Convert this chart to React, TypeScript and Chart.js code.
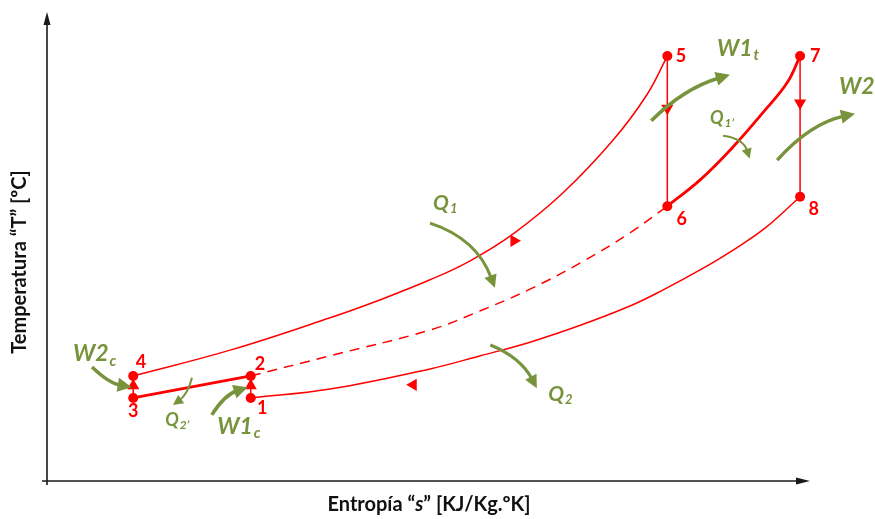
import React, { useEffect, useRef } from "react";
import { Chart, registerables } from "chart.js";

Chart.register(...registerables);

const RED = "#FF0000";
const GREEN = "#77933C";
const AXIS = "#1a1a1a";

// State points of the cycle (entropy s, temperature T) in arbitrary units 0..100
const stateNames = ["1", "2", "3", "4", "5", "6", "7", "8"];
const stateS = [26.7, 26.7, 11.3, 11.3, 81.3, 81.3, 98.7, 98.7];
const stateT = [17.7, 22.4, 17.7, 22.4, 90.6, 58.6, 90.6, 60.6];
const stateLabelS = [28.2, 27.9, 11.3, 12.3, 83.1, 83.2, 100.7, 100.5];
const stateLabelT = [15.6, 24.9, 14.9, 25.4, 90.6, 55.9, 90.6, 58.0];

// Constant pressure line 4 -> 5 (high pressure)
const upperS = [11.3, 24.0, 37.1, 43.6, 50.2, 55.4, 61.1, 67.6, 74.2, 78.6, 81.3];
const upperT = [22.4, 27.9, 34.8, 38.6, 42.9, 46.9, 52.7, 61.4, 72.7, 82.3, 90.6];

// Intermediate pressure line 2 -> 6 (dashed)
const middleS = [26.7, 37.1, 50.2, 56.8, 63.3, 69.9, 76.4, 81.3];
const middleT = [22.4, 26.7, 32.2, 36.3, 40.9, 46.5, 52.9, 58.6];

// Reheat 6 -> 7
const reheatS = [81.3, 85.6, 89.9, 93.8, 97.0, 98.7];
const reheatT = [58.6, 64.2, 71.2, 78.5, 84.9, 90.6];

// Low pressure line 1 -> 8
const lowerS = [26.7, 37.1, 50.2, 56.8, 63.3, 69.9, 76.4, 80.7, 85.6, 89.5, 94.1, 98.7];
const lowerT = [17.7, 19.6, 23.9, 26.7, 29.6, 33.2, 37.3, 40.7, 45.0, 48.8, 53.9, 60.6];

// Intercooling 3 -> 2
const coolS = [11.3, 26.7];
const coolT = [17.7, 22.4];

// Direction markers on the cycle
const dirS = [81.3, 98.7, 11.3, 26.7, 61.2, 48.0];
const dirT = [79.5, 80.6, 20.3, 20.3, 51.2, 20.5];
const dirAngle = [180, 180, 0, 0, 210, 270];

// Heat / work arrows: start, middle, end (s, T)
const flowNames = ["W2c", "Q2'", "W1c", "Q1", "Q2", "W1t", "Q1'", "W2"];
const flowArrows = [
  [5.9, 24.3, 8.3, 21.5, 11.1, 20.0],
  [19.0, 22.0, 18.1, 18.8, 16.5, 16.2],
  [21.6, 14.1, 23.6, 17.7, 26.3, 20.0],
  [50.2, 55.0, 55.4, 49.9, 58.7, 41.2],
  [58.1, 29.0, 61.6, 25.4, 64.2, 19.8],
  [79.2, 76.8, 83.9, 82.7, 89.5, 86.6],
  [88.6, 73.6, 90.8, 72.1, 92.1, 68.7],
  [95.7, 68.4, 100.4, 74.8, 105.9, 78.3],
];
const flowWidth = [3.5, 2, 3.5, 3, 3, 3.5, 2, 3.5];

// Labels of the heat / work arrows
const flowMain = ["W2", "Q", "W1", "Q", "Q", "W1", "Q", "W2"];
const flowSub = ["c", "2\u2019", "c", "1", "2", "t", "1\u2019", ""];
const flowLabelS = [3.4, 15.5, 22.3, 50.6, 65.7, 87.8, 86.9, 103.8];
const flowLabelT = [27.1, 13.0, 11.7, 59.3, 18.6, 92.3, 77.4, 84.2];
const flowFont = [23, 18, 23, 21, 21, 23, 18, 23];

const yTitle = "Temperatura \u201CT\u201D [\u00BAC]";
const xTitleParts = ["Entrop\u00EDa \u201C", "s", "\u201D [KJ/Kg.\u00BAK]"];

function line(s: number[], t: number[], width: number, dash?: number[]) {
  return {
    data: s.map((v, i) => ({ x: v, y: t[i] })),
    showLine: true,
    borderColor: RED,
    backgroundColor: RED,
    borderWidth: width,
    borderDash: dash || [],
    pointRadius: 0,
    tension: 0.4,
  };
}

const decor = {
  id: "decor",
  beforeDatasetsDraw(chart: any) {
    const { ctx, chartArea } = chart;
    const { left, right, top, bottom } = chartArea;
    ctx.save();
    ctx.strokeStyle = AXIS;
    ctx.fillStyle = AXIS;
    ctx.lineWidth = 1.6;
    ctx.beginPath();
    ctx.moveTo(left, bottom + 4);
    ctx.lineTo(left, top + 8);
    ctx.stroke();
    ctx.beginPath();
    ctx.moveTo(left, top);
    ctx.lineTo(left - 3.5, top + 13);
    ctx.lineTo(left + 3.5, top + 13);
    ctx.closePath();
    ctx.fill();
    ctx.beginPath();
    ctx.moveTo(left - 5, bottom);
    ctx.lineTo(right - 8, bottom);
    ctx.stroke();
    ctx.beginPath();
    ctx.moveTo(right, bottom);
    ctx.lineTo(right - 14, bottom - 3.5);
    ctx.lineTo(right - 14, bottom + 3.5);
    ctx.closePath();
    ctx.fill();
    ctx.restore();
  },
  afterDraw(chart: any) {
    const { ctx, chartArea } = chart;
    const xs = chart.scales.x;
    const ys = chart.scales.y;
    const px = (v: number) => xs.getPixelForValue(v);
    const py = (v: number) => ys.getPixelForValue(v);
    ctx.save();

    flowArrows.forEach((a, i) => {
      const w = flowWidth[i];
      const x0 = px(a[0]), y0 = py(a[1]);
      const xm = px(a[2]), ym = py(a[3]);
      const x2 = px(a[4]), y2 = py(a[5]);
      const cx = 2 * xm - (x0 + x2) / 2;
      const cy = 2 * ym - (y0 + y2) / 2;
      let dx = x2 - cx, dy = y2 - cy;
      const len = Math.hypot(dx, dy) || 1;
      dx /= len; dy /= len;
      const hl = 5 + w * 2.6;
      const hw = 2.5 + w * 1.3;
      const bx = x2 - dx * hl * 0.8, by = y2 - dy * hl * 0.8;
      ctx.strokeStyle = GREEN;
      ctx.fillStyle = GREEN;
      ctx.lineWidth = w;
      ctx.lineCap = "butt";
      ctx.beginPath();
      ctx.moveTo(x0, y0);
      ctx.quadraticCurveTo(cx, cy, bx, by);
      ctx.stroke();
      const hx = x2 - dx * hl, hy = y2 - dy * hl;
      ctx.beginPath();
      ctx.moveTo(x2, y2);
      ctx.lineTo(hx - dy * hw, hy + dx * hw);
      ctx.lineTo(hx + dy * hw, hy - dx * hw);
      ctx.closePath();
      ctx.fill();
    });

    ctx.fillStyle = GREEN;
    ctx.textBaseline = "middle";
    ctx.textAlign = "left";
    flowMain.forEach((m, i) => {
      const size = flowFont[i];
      const x = px(flowLabelS[i]);
      const y = py(flowLabelT[i]);
      ctx.font = `italic bold ${size}px Lato`;
      ctx.fillText(m, x, y);
      const wMain = ctx.measureText(m).width;
      if (flowSub[i]) {
        ctx.font = `italic bold ${Math.round(size * 0.64)}px Lato`;
        ctx.fillText(flowSub[i], x + wMain + 1, y + size * 0.3);
      }
    });

    ctx.fillStyle = RED;
    ctx.textAlign = "center";
    ctx.font = "bold 18px Lato";
    stateNames.forEach((n, i) => {
      ctx.fillText(n, px(stateLabelS[i]), py(stateLabelT[i]));
    });

    ctx.fillStyle = "#111";
    ctx.font = "bold 20px Lato";
    ctx.save();
    ctx.translate(20, 262);
    ctx.rotate(-Math.PI / 2);
    ctx.textAlign = "center";
    ctx.fillText(yTitle, 0, 0);
    ctx.restore();

    const fonts = ["bold 20px Lato", "italic bold 20px Lato", "bold 20px Lato"];
    let total = 0;
    const widths = xTitleParts.map((p, i) => {
      ctx.font = fonts[i];
      const w = ctx.measureText(p).width;
      total += w;
      return w;
    });
    let x = 429 - total / 2;
    const y = chartArea.bottom + 24;
    ctx.textAlign = "left";
    xTitleParts.forEach((p, i) => {
      ctx.font = fonts[i];
      ctx.fillText(p, x, y);
      x += widths[i];
    });
    ctx.restore();
  },
};

export default function App() {
  const ref = useRef<HTMLCanvasElement | null>(null);
  useEffect(() => {
    document.body.style.margin = "0";
    const canvas = ref.current;
    if (!canvas) return;
    const chart = new Chart(canvas, {
      type: "scatter",
      data: {
        datasets: [
          line(upperS, upperT, 1.5),
          line(middleS, middleT, 1.5, [10, 7]),
          line(lowerS, lowerT, 1.5),
          line(reheatS, reheatT, 2.8),
          line(coolS, coolT, 2.8),
          line([stateS[4], stateS[5]], [stateT[4], stateT[5]], 1.5),
          line([stateS[6], stateS[7]], [stateT[6], stateT[7]], 1.5),
          line([stateS[2], stateS[3]], [stateT[2], stateT[3]], 1.5),
          line([stateS[0], stateS[1]], [stateT[0], stateT[1]], 1.5),
          {
            data: dirS.map((v, i) => ({ x: v, y: dirT[i] })),
            showLine: false,
            pointStyle: "triangle",
            pointRadius: 7,
            rotation: dirAngle,
            backgroundColor: RED,
            borderColor: RED,
            borderWidth: 0,
          } as any,
          {
            data: stateS.map((v, i) => ({ x: v, y: stateT[i] })),
            showLine: false,
            pointRadius: 5,
            backgroundColor: RED,
            borderColor: RED,
            borderWidth: 0,
          },
        ],
      },
      options: {
        animation: false,
        responsive: false,
        devicePixelRatio: 1,
        layout: { padding: { left: 47, right: 65, top: 12, bottom: 38 } },
        plugins: { legend: { display: false }, tooltip: { enabled: false } },
        events: [],
        scales: {
          x: { type: "linear", min: 0, max: 100, display: false },
          y: { type: "linear", min: 0, max: 100, display: false },
        },
      },
      plugins: [decor],
    });
    return () => chart.destroy();
  }, []);
  return <canvas ref={ref} width={875} height={519} style={{ display: "block" }} />;
}
